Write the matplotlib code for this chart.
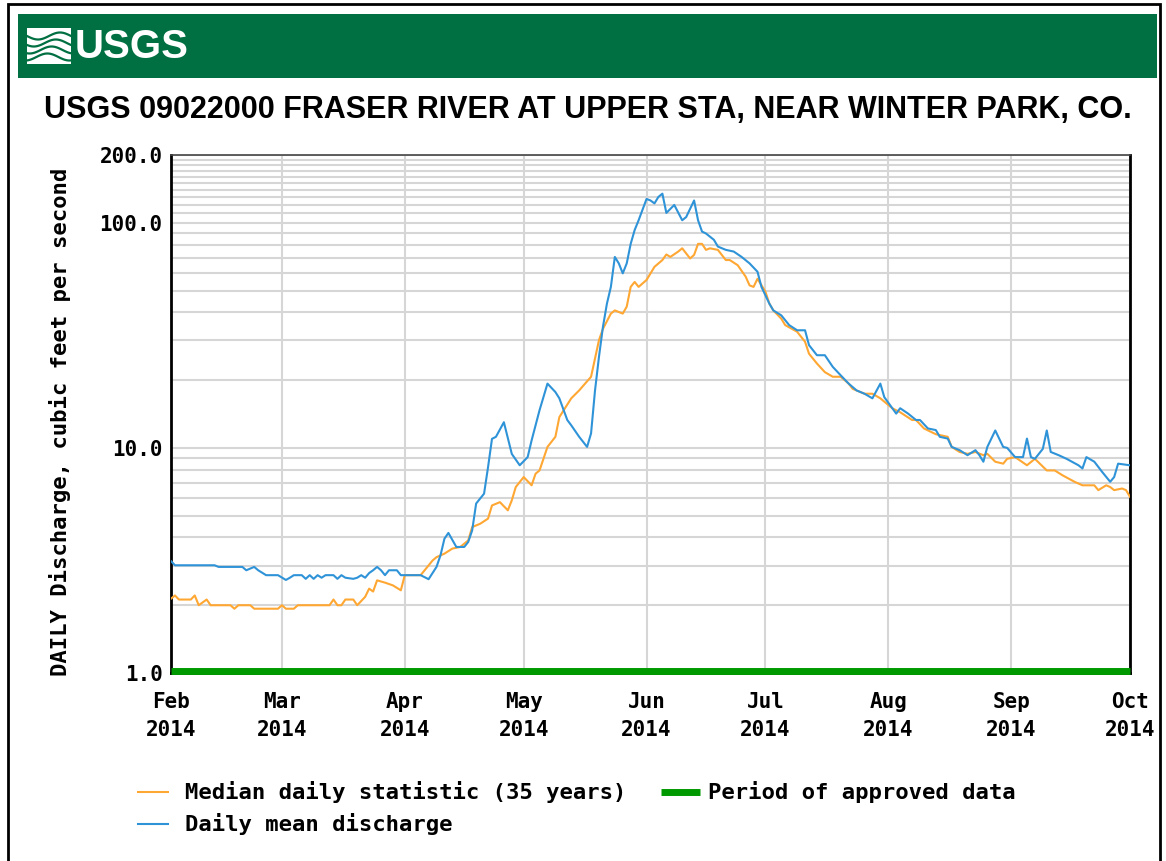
import matplotlib
matplotlib.use("Agg")
import matplotlib.pyplot as plt
from matplotlib.lines import Line2D
from matplotlib.patches import Rectangle
import numpy as np
import pandas as pd

# donnees (jours depuis le 1er fevrier 2014, debit en pi3/s)
start = "2014-02-01"
end = "2014-10-01"

mean_days = [0, 1, 11, 12, 18, 19, 21, 22, 24, 27, 29, 30, 31, 33, 34, 35, 36, 37, 38, 39,
             41, 42, 43, 44, 46, 47, 48, 49, 50, 51, 52, 53, 54, 55, 57, 58, 63, 65, 67, 68,
             69, 70, 72, 74, 75, 76, 77, 79, 80, 81, 82, 84, 86, 88, 90, 91, 93, 95, 97, 98,
             100, 101, 103, 105, 106, 107, 108, 109, 110, 111, 112, 113, 114, 115, 116, 117, 118, 120, 121, 122,
             123, 124, 125, 127, 129, 130, 132, 133, 134, 135, 137, 138, 140, 142, 144, 146, 148, 149, 151, 152,
             154, 156, 158, 160, 161, 163, 165, 167, 169, 171, 173, 175, 177, 179, 180, 183, 184, 186, 188, 189,
             191, 193, 194, 196, 197, 199, 201, 203, 204, 205, 206, 208, 210, 211, 213, 215, 216, 217, 218, 220,
             221, 222, 224, 226, 229, 230, 231, 233, 235, 237, 238, 239, 242]
mean_q = [3.14, 3.01, 3.01, 2.96, 2.96, 2.86, 2.96, 2.86, 2.72, 2.72, 2.59, 2.65, 2.72, 2.72, 2.62, 2.72, 2.62, 2.72, 2.65, 2.72,
          2.72, 2.62, 2.72, 2.65, 2.62, 2.65, 2.72, 2.65, 2.78, 2.86, 2.96, 2.86, 2.72, 2.86, 2.86, 2.72, 2.72, 2.61, 2.96, 3.33,
          3.95, 4.19, 3.63, 3.63, 3.82, 4.30, 5.66, 6.26, 8.2, 10.97, 11.2, 13.0, 9.4, 8.37, 9.1, 10.8, 14.7, 19.3, 17.7, 16.6,
          13.3, 12.6, 11.2, 10.1, 11.6, 18.0, 25.4, 34.5, 43.7, 51.9, 70.5, 66.0, 59.6, 66.0, 80.6, 92.8, 102.6, 127.6, 125.6, 121.9,
          130.3, 134.7, 110.6, 120.0, 102.6, 106.0, 125.6, 102.6, 91.4, 89.6, 84.0, 78.4, 75.8, 74.5, 70.5, 66.0, 60.6, 51.9, 43.7, 40.8,
          38.8, 35.1, 33.3, 33.3, 28.6, 25.8, 25.8, 22.9, 21.0, 19.3, 18.0, 17.4, 16.6, 19.3, 16.8, 14.2, 15.0, 14.2, 13.3, 13.3,
          12.2, 12.0, 11.2, 11.0, 10.1, 9.77, 9.28, 9.77, 9.28, 8.68, 10.1, 11.95, 10.1, 10.0, 9.1, 9.1, 11.0, 9.1, 8.94, 9.9,
          11.95, 9.59, 9.28, 8.94, 8.37, 8.1, 9.1, 8.68, 7.81, 7.07, 7.42, 8.51, 8.37]

median_days = [0, 1, 2, 5, 6, 7, 9, 10, 15, 16, 17, 20, 21, 27, 28, 29, 31, 32, 40, 41,
               42, 43, 44, 46, 47, 49, 50, 51, 52, 54, 56, 58, 59, 63, 66, 67, 69, 71, 73, 75,
               76, 78, 80, 81, 83, 85, 86, 87, 89, 91, 92, 93, 95, 97, 98, 101, 103, 106, 108, 109,
               111, 112, 114, 115, 116, 117, 118, 120, 122, 124, 125, 126, 128, 129, 131, 132, 133, 134, 135, 136,
               138, 140, 141, 143, 145, 146, 147, 148, 150, 151, 152, 154, 155, 158, 160, 161, 163, 165, 167, 169,
               171, 172, 175, 177, 179, 182, 184, 187, 188, 190, 193, 196, 197, 199, 201, 203, 205, 206, 208, 210,
               211, 213, 216, 218, 221, 223, 225, 228, 230, 233, 234, 236, 237, 238, 240, 241, 242]
median_q = [2.14, 2.21, 2.12, 2.12, 2.21, 2.0, 2.12, 2.0, 2.0, 1.93, 2.0, 2.0, 1.93, 1.93, 2.0, 1.93, 1.93, 2.0, 2.0, 2.12,
            2.0, 2.0, 2.12, 2.12, 2.0, 2.18, 2.37, 2.30, 2.58, 2.52, 2.45, 2.33, 2.72, 2.72, 3.16, 3.27, 3.39, 3.57, 3.63, 3.88,
            4.45, 4.60, 4.85, 5.55, 5.74, 5.28, 5.85, 6.70, 7.42, 6.82, 7.68, 7.94, 10.1, 11.2, 13.7, 16.6, 18.0, 20.7, 30.1, 33.8,
            39.5, 40.8, 39.5, 42.4, 51.9, 54.6, 51.9, 55.7, 63.7, 68.3, 72.3, 70.5, 74.5, 77.0, 69.4, 72.0, 80.6, 80.6, 75.8, 77.0,
            75.8, 68.3, 68.3, 64.8, 57.7, 52.7, 51.9, 56.4, 49.4, 43.7, 40.8, 37.5, 35.1, 32.8, 29.6, 26.2, 23.7, 21.7, 20.7, 20.7,
            19.3, 18.3, 17.4, 17.4, 16.6, 15.0, 14.4, 13.3, 13.3, 12.2, 11.5, 11.2, 10.1, 9.59, 9.41, 9.59, 9.28, 9.41, 8.68, 8.51,
            8.94, 9.1, 8.37, 8.94, 7.94, 7.94, 7.55, 7.07, 6.82, 6.82, 6.49, 6.82, 6.7, 6.49, 6.6, 6.49, 6.06]

y_major = [1, 10, 100, 200]
y_minor = [2, 3, 4, 5, 6, 7, 8, 9, 20, 30, 40, 50, 60, 70, 80, 90,
           110, 120, 130, 140, 150, 160, 170, 180, 190]

title = "USGS 09022000 FRASER RIVER AT UPPER STA, NEAR WINTER PARK, CO."
ylabel = "DAILY Discharge, cubic feet per second"
legend_labels = ["Median daily statistic (35 years)", "Period of approved data", "Daily mean discharge"]

c_median = "#FFA733"
c_mean = "#2F93D8"
c_approved = "#009A00"
c_header = "#006F41"
mono = "DejaVu Sans Mono"
sans = ["Liberation Sans", "DejaVu Sans"]

W, H = 1166, 861
t0 = pd.Timestamp(start)
mean_dates = t0 + pd.to_timedelta(mean_days, unit="D")
median_dates = t0 + pd.to_timedelta(median_days, unit="D")

fig = plt.figure(figsize=(W / 100, H / 100), dpi=100)

def fx(px):
    return px / W

def fy(py):
    return 1 - py / H

# cadre exterieur (le bas sort de l'image comme sur la capture)
fig.add_artist(Rectangle((fx(8), fy(875)), fx(1152), 871 / H, transform=fig.transFigure,
                         fill=False, edgecolor="black", linewidth=2))

# bandeau vert USGS
fig.add_artist(Rectangle((fx(18), fy(78)), fx(1139), 64 / H, transform=fig.transFigure,
                         facecolor=c_header, edgecolor="none"))
# petit logo vagues
fig.add_artist(Rectangle((fx(27), fy(64)), fx(44), 36 / H, transform=fig.transFigure,
                         facecolor="white", edgecolor="none"))
xs = np.linspace(27, 71, 60)
for k, off in enumerate([36, 43, 50, 57]):
    ys = off + 3.5 * np.sin((xs - 27) / 44 * 2 * np.pi + 0.6 * k)
    fig.add_artist(Line2D(fx(xs), fy(ys), transform=fig.transFigure, color=c_header, linewidth=1.6))
fig.text(fx(75), fy(47), "USGS", color="white", fontsize=29, fontweight="bold",
         family=sans, ha="left", va="center")

# titre
fig.text(fx(588), fy(110), title, fontsize=22, fontweight="bold",
         family=sans, ha="center", va="center")

ax = fig.add_axes([fx(171), fy(673), fx(959), 518 / H])
ax.set_yscale("log")
ax.set_ylim(1, 200)
ax.set_xlim(pd.Timestamp(start), pd.Timestamp(end))

ax.plot(median_dates, median_q, color=c_median, linewidth=1.5, zorder=3)
ax.plot(mean_dates, mean_q, color=c_mean, linewidth=1.5, zorder=4)
ax.plot([pd.Timestamp(start), pd.Timestamp(end)], [1.02, 1.02], color=c_approved, linewidth=5,
        solid_capstyle="butt", clip_on=False, zorder=5)

ax.set_yticks(y_major)
ax.set_yticks(y_minor, minor=True)
ax.set_yticklabels(["%.1f" % v for v in y_major], fontsize=15, fontweight="bold", family=mono)
ax.yaxis.set_minor_formatter(matplotlib.ticker.NullFormatter())
ax.tick_params(axis="both", which="both", length=0)
ax.tick_params(axis="y", pad=6)
ax.tick_params(axis="x", pad=14)

months = pd.date_range(start, end, freq="MS")
ax.set_xticks(months)
ax.set_xticklabels([m.strftime("%b\n%Y") for m in months], fontsize=15, fontweight="bold",
                   family=mono, linespacing=1.45)

ax.grid(which="both", axis="y", color="#d6d6d6", linewidth=1.5, zorder=0)
ax.grid(which="major", axis="x", color="#d6d6d6", linewidth=1.5, zorder=0)
ax.set_axisbelow(True)

for side in ["left", "bottom", "right"]:
    ax.spines[side].set_color("black")
    ax.spines[side].set_linewidth(2)
ax.spines["top"].set_color("#444444")
ax.spines["top"].set_linewidth(1.2)

fig.text(fx(60), fy(422), ylabel, rotation=90, fontsize=16, fontweight="bold", family=mono,
         ha="center", va="center")

# legende
fig.add_artist(Line2D([fx(138), fx(168)], [fy(792), fy(792)], transform=fig.transFigure,
                      color=c_median, linewidth=1.5))
fig.text(fx(185), fy(792), legend_labels[0], fontsize=16, fontweight="bold", family=mono,
         ha="left", va="center")
fig.add_artist(Line2D([fx(661), fx(700)], [fy(792), fy(792)], transform=fig.transFigure,
                      color=c_approved, linewidth=5, solid_capstyle="butt"))
fig.text(fx(708), fy(792), legend_labels[1], fontsize=16, fontweight="bold", family=mono,
         ha="left", va="center")
fig.add_artist(Line2D([fx(138), fx(168)], [fy(824), fy(824)], transform=fig.transFigure,
                      color=c_mean, linewidth=1.5))
fig.text(fx(185), fy(824), legend_labels[2], fontsize=16, fontweight="bold", family=mono,
         ha="left", va="center")

fig.savefig("out.png", dpi=100)
